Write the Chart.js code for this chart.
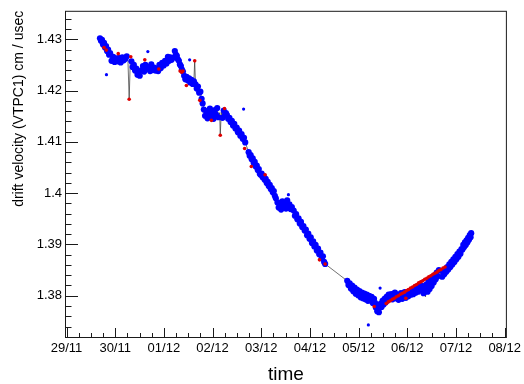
<!DOCTYPE html>
<html>
<head>
<meta charset="utf-8">
<script src="https://cdn.jsdelivr.net/npm/chart.js@4/dist/chart.umd.min.js"></script>
<style>
  html, body { margin: 0; padding: 0; background: #fff; }
  #wrap { width: 524px; height: 384px; }
</style>
</head>
<body>
<div id="wrap"><canvas id="c" width="524" height="384"></canvas></div>
<script>
// Time axis: hours since 29/11 00:00, one label per day
const dayLabels = ['29/11', '30/11', '01/12', '02/12', '03/12', '04/12', '05/12', '06/12', '07/12', '08/12'];
const dayHours = [0, 24, 48, 72, 96, 120, 144, 168, 192, 216];
const yTickValues = [1.38, 1.39, 1.40, 1.41, 1.42, 1.43];

// Drift velocity measurements (hours, cm/usec)
const hours = [
  16.5, 17.0, 17.5, 18.0, 18.5, 19.0, 19.5, 20.0, 20.5, 21.0, 21.5, 22.2, 23.0, 23.7, 24.5, 25.2, 26.0, 26.7, 27.5, 28.2, 29.0, 29.7, 30.3, 30.9,
  31.4, 32.0, 32.6, 33.2, 33.8, 34.4, 35.0, 35.6, 36.1,
  37.1, 37.7, 38.3, 38.9, 39.5, 40.6, 41.2, 41.8,
  42.5, 43.2, 43.9, 44.6, 45.2,
  45.8, 46.5, 47.2, 47.9, 48.6, 49.3,
  50.0, 50.6, 51.2, 51.8, 52.4,
  53.4, 53.9, 54.4, 54.9, 55.4, 55.9, 56.4, 56.9, 57.4,
  58.0, 58.6, 59.2, 59.8, 60.4, 61.0, 61.6, 62.2, 62.8, 63.2, 63.6, 64.2, 64.8, 65.4, 66.0, 66.6, 67.1,
  67.7, 68.3, 68.9, 69.5, 70.1, 70.7, 71.3, 71.9, 72.5, 73.1, 73.7, 74.3, 74.9, 75.5, 75.8, 76.3, 76.9, 77.5, 78.1, 78.6,
  79.1, 79.7, 80.3, 80.9, 81.5, 82.1, 82.7, 83.3, 83.9, 84.5, 85.1, 85.7, 86.3, 86.9, 87.5, 88.1,
  89.8, 90.3, 90.8, 91.3, 91.8, 92.3, 92.8, 93.3, 93.8, 94.3, 94.8, 95.3, 95.7,
  96.2, 96.7, 97.2, 97.7, 98.2, 98.7, 99.2, 99.7, 100.2, 100.7, 101.2, 101.7, 102.2, 102.7, 103.2,
  104.0, 104.6, 105.2, 105.8, 106.4, 107.0, 107.6, 108.2, 108.8, 109.9, 110.5, 111.1,
  112.0, 112.6, 113.2, 113.8, 114.4, 115.0, 115.6, 116.2, 116.8, 117.4, 118.0, 118.6, 119.2, 119.8, 120.4, 121.0, 121.6, 122.2, 122.8, 123.4, 124.0, 124.6, 125.2, 125.8, 126.4, 127.0, 127.5,
  138.4, 139.0, 139.6, 140.2, 140.8, 141.4, 142.0, 142.6, 143.2, 143.8, 144.4, 145.0, 145.6, 146.2, 146.8, 147.4, 148.0, 148.6, 149.2, 149.8, 150.4, 151.0, 151.6,
  152.1, 152.5, 152.9, 153.2, 153.6, 154.0, 154.3,
  154.8, 155.3, 155.8, 156.3, 156.8, 157.3, 157.8, 158.3, 158.8,
  159.5, 160.1, 160.7, 161.3, 161.9, 162.5, 163.1, 163.7, 164.3, 164.9, 165.5, 166.1, 166.7,
  167.3, 167.9, 168.5, 169.1, 169.7, 170.3, 170.9, 171.5, 172.1, 172.7, 173.3, 173.9, 174.5, 175.1,
  176.0, 176.5, 177.0, 177.5, 178.0, 178.5, 179.0, 179.5, 180.0, 180.5, 181.0, 181.5, 182.0, 182.5, 183.0, 183.6,
  185.2, 185.7, 186.2, 186.7, 187.2, 187.7, 188.2, 188.7, 189.2, 189.7, 190.2, 190.7, 191.2, 191.7, 192.2, 192.7, 193.2, 193.7, 194.2, 194.7,
  195.2, 195.6, 196.0, 196.4, 196.8, 197.2, 197.6, 198.0, 198.4, 198.8, 199.2, 199.5
];
const drift = [
  1.4302, 1.4297, 1.4299, 1.4290, 1.4293, 1.4284, 1.4287, 1.4277, 1.4280, 1.4270, 1.4273, 1.4258, 1.4266, 1.4256, 1.4263, 1.4257, 1.4264, 1.4255, 1.4265, 1.4259, 1.4262, 1.4267, 1.4258, 1.4183,
  1.4252, 1.4257, 1.4246, 1.4250, 1.4239, 1.4243, 1.4231, 1.4235, 1.4229,
  1.4240, 1.4248, 1.4237, 1.4250, 1.4243, 1.4246, 1.4238, 1.4251,
  1.4240, 1.4245, 1.4239, 1.4243, 1.4238,
  1.4250, 1.4244, 1.4254, 1.4249, 1.4258, 1.4253,
  1.4266, 1.4258, 1.4265, 1.4260, 1.4264,
  1.4277, 1.4270, 1.4268, 1.4261, 1.4258, 1.4251, 1.4248, 1.4241, 1.4237,
  1.4229, 1.4222, 1.4227, 1.4220, 1.4224, 1.4216, 1.4221, 1.4213, 1.4218, 1.4258, 1.4212, 1.4204, 1.4208, 1.4196, 1.4198, 1.4184, 1.4175,
  1.4163, 1.4151, 1.4160, 1.4146, 1.4157, 1.4165, 1.4150, 1.4159, 1.4145, 1.4162, 1.4153, 1.4166, 1.4148, 1.4157, 1.4113, 1.4158, 1.4147, 1.4161, 1.4152, 1.4156,
  1.4152, 1.4145, 1.4147, 1.4139, 1.4141, 1.4132, 1.4135, 1.4126, 1.4128, 1.4119, 1.4122, 1.4112, 1.4115, 1.4106, 1.4108, 1.4099,
  1.4080, 1.4073, 1.4074, 1.4066, 1.4068, 1.4059, 1.4061, 1.4052, 1.4054, 1.4045, 1.4047, 1.4038, 1.4036,
  1.4038, 1.4031, 1.4033, 1.4026, 1.4028, 1.4020, 1.4022, 1.4014, 1.4016, 1.4008, 1.4010, 1.4002, 1.4004, 1.3995, 1.3990,
  1.3982, 1.3972, 1.3979, 1.3968, 1.3984, 1.3974, 1.3980, 1.3970, 1.3986, 1.3978, 1.3969, 1.3973,
  1.3966, 1.3956, 1.3959, 1.3949, 1.3951, 1.3941, 1.3944, 1.3934, 1.3936, 1.3927, 1.3929, 1.3918, 1.3921, 1.3911, 1.3914, 1.3903, 1.3906, 1.3896, 1.3899, 1.3888, 1.3892, 1.3881, 1.3884, 1.3873, 1.3877, 1.3866, 1.3862,
  1.3829, 1.3821, 1.3824, 1.3814, 1.3820, 1.3809, 1.3816, 1.3804, 1.3812, 1.3801, 1.3809, 1.3797, 1.3806, 1.3795, 1.3804, 1.3793, 1.3802, 1.3790, 1.3800, 1.3791, 1.3798, 1.3786, 1.3794,
  1.3786, 1.3777, 1.3781, 1.3770, 1.3775, 1.3768, 1.3778,
  1.3784, 1.3778, 1.3790, 1.3783, 1.3794, 1.3787, 1.3798, 1.3791, 1.3802,
  1.3796, 1.3803, 1.3793, 1.3800, 1.3806, 1.3795, 1.3802, 1.3792, 1.3799, 1.3805, 1.3794, 1.3801, 1.3807,
  1.3796, 1.3806, 1.3799, 1.3809, 1.3802, 1.3811, 1.3803, 1.3813, 1.3806, 1.3816, 1.3808, 1.3818, 1.3811, 1.3820,
  1.3805, 1.3815, 1.3798, 1.3822, 1.3808, 1.3827, 1.3813, 1.3831, 1.3819, 1.3835, 1.3826, 1.3840, 1.3832, 1.3845, 1.3838, 1.3850,
  1.3837, 1.3846, 1.3842, 1.3851, 1.3847, 1.3856, 1.3851, 1.3861, 1.3856, 1.3866, 1.3861, 1.3871, 1.3866, 1.3876, 1.3871, 1.3881, 1.3876, 1.3886, 1.3882, 1.3891,
  1.3890, 1.3899, 1.3895, 1.3904, 1.3899, 1.3908, 1.3904, 1.3913, 1.3909, 1.3918, 1.3914, 1.3922
];

// Flagged measurements (drawn in red)
const flagHours = [
  18.5, 19.6, 25.5, 30.9, 31.7, 38.6, 45.5, 56.0, 56.8, 57.4, 59.1, 63.2, 65.7, 71.4, 75.8, 77.9, 87.8, 91.1, 97.9, 124.7, 127.5, 151.7, 167.3,
  157.6, 158.6, 159.6, 160.6, 161.6, 162.6, 163.6, 164.6, 165.6, 166.6, 167.6, 168.6, 169.6, 170.6, 171.6, 172.6, 173.6, 174.6, 175.6,
  176.6, 177.6, 178.6, 179.6, 180.6, 181.6, 182.6, 183.6, 184.6, 185.6, 186.6
];
const flagDrift = [
  1.4284, 1.4279, 1.4272, 1.4183, 1.4266, 1.4260, 1.4242, 1.4238, 1.4236, 1.4238, 1.4210, 1.4258, 1.4181, 1.4142, 1.4113, 1.4165, 1.4087, 1.4052, 1.4036, 1.3870, 1.3862, 1.3779, 1.3795,
  1.3785, 1.3788, 1.3790, 1.3793, 1.3795, 1.3798, 1.3800, 1.3803, 1.3805, 1.3807, 1.3810, 1.3812, 1.3815, 1.3817, 1.3820, 1.3822, 1.3825, 1.3827, 1.3829,
  1.3832, 1.3834, 1.3837, 1.3839, 1.3842, 1.3844, 1.3846, 1.3849, 1.3851, 1.3854, 1.3856
];

// Isolated readings off the main trend
const strayHours = [19.7, 40.1, 60.7, 87.3, 109.4, 148.8, 154.6];
const strayDrift = [1.4231, 1.4276, 1.4260, 1.4164, 1.3997, 1.3743, 1.3815];

const toXY = (xs, ys) => xs.map((x, i) => ({ x: x, y: ys[i] }));

// A reading far from both neighbours is a spike: only its flag marker is shown
const isSpike = i => {
  const v = drift[i];
  const prev = i > 0 ? drift[i - 1] : v;
  const next = i < drift.length - 1 ? drift[i + 1] : v;
  return Math.abs(v - (prev + next) / 2) > 0.002;
};

const FONT = "'Liberation Sans', Arial, Helvetica, sans-serif";

// Frame, inward tick marks and axis titles
const frameAndTitles = {
  id: 'frameAndTitles',
  afterDraw(chart) {
    const { ctx, chartArea: a, scales: { x, y } } = chart;
    ctx.save();
    ctx.strokeStyle = '#1a1a1a';
    ctx.lineWidth = 1;
    ctx.strokeRect(a.left + 0.5, a.top + 0.5, a.right - a.left - 1, a.bottom - a.top - 1);

    ctx.beginPath();
    for (let hr = 0; hr <= 216; hr += 6) {
      const px = Math.round(x.getPixelForValue(hr)) + 0.5;
      const len = hr % 24 === 0 ? 10 : 5;
      ctx.moveTo(px, a.bottom);
      ctx.lineTo(px, a.bottom - len);
    }
    for (let k = 686; k <= 717; k++) {
      const py = Math.round(y.getPixelForValue(k / 500)) + 0.5;
      const len = k % 5 === 0 ? 13 : 6.5;
      ctx.moveTo(a.left, py);
      ctx.lineTo(a.left + len, py);
    }
    ctx.stroke();

    ctx.fillStyle = '#000';
    ctx.font = '19px ' + FONT;
    ctx.textAlign = 'center';
    ctx.textBaseline = 'alphabetic';
    ctx.fillText('time', (a.left + a.right) / 2, 380);

    ctx.translate(23, a.top);
    ctx.rotate(-Math.PI / 2);
    ctx.font = '14px ' + FONT;
    ctx.textAlign = 'right';
    ctx.fillText('drift velocity (VTPC1) cm / usec', 0, 0);
    ctx.restore();
  }
};

new Chart(document.getElementById('c'), {
  type: 'scatter',
  data: {
    datasets: [
      {
        label: 'flagged',
        data: toXY(flagHours, flagDrift),
        showLine: false,
        pointRadius: 1.8,
        pointBorderWidth: 0,
        pointBackgroundColor: '#e00000'
      },
      {
        label: 'stray',
        data: toXY(strayHours, strayDrift),
        showLine: false,
        pointRadius: 1.6,
        pointBorderWidth: 0,
        pointBackgroundColor: '#0000ff'
      },
      {
        label: 'drift velocity',
        data: toXY(hours, drift),
        showLine: true,
        borderColor: '#333',
        borderWidth: 0.7,
        pointRadius: c => (isSpike(c.dataIndex) ? 0 : 3.1),
        pointBorderWidth: 0,
        pointBackgroundColor: '#0000ff'
      }
    ]
  },
  options: {
    responsive: false,
    animation: false,
    devicePixelRatio: 1,
    events: [],
    layout: { padding: { left: 0, right: 16, top: 5, bottom: 0 } },
    plugins: { legend: { display: false }, tooltip: { enabled: false } },
    scales: {
      x: {
        type: 'linear',
        min: -0.74,
        max: 217.1,
        afterFit(s) { s.height = 46; },
        afterBuildTicks(s) { s.ticks = dayHours.map(v => ({ value: v })); },
        grid: { display: false, drawTicks: false },
        border: { display: false },
        ticks: {
          autoSkip: false,
          maxRotation: 0,
          padding: 3,
          color: '#000',
          font: { family: FONT, size: 13 },
          callback: v => dayLabels[dayHours.indexOf(v)]
        }
      },
      y: {
        type: 'linear',
        min: 1.37176,
        max: 1.43556,
        afterFit(s) { s.width = 65; },
        afterBuildTicks(s) { s.ticks = yTickValues.map(v => ({ value: v })); },
        grid: { display: false, drawTicks: false },
        border: { display: false },
        ticks: {
          padding: 3,
          color: '#000',
          font: { family: FONT, size: 13 },
          callback: v => String(Number(v.toFixed(2)))
        }
      }
    }
  },
  plugins: [frameAndTitles]
});
</script>
</body>
</html>
